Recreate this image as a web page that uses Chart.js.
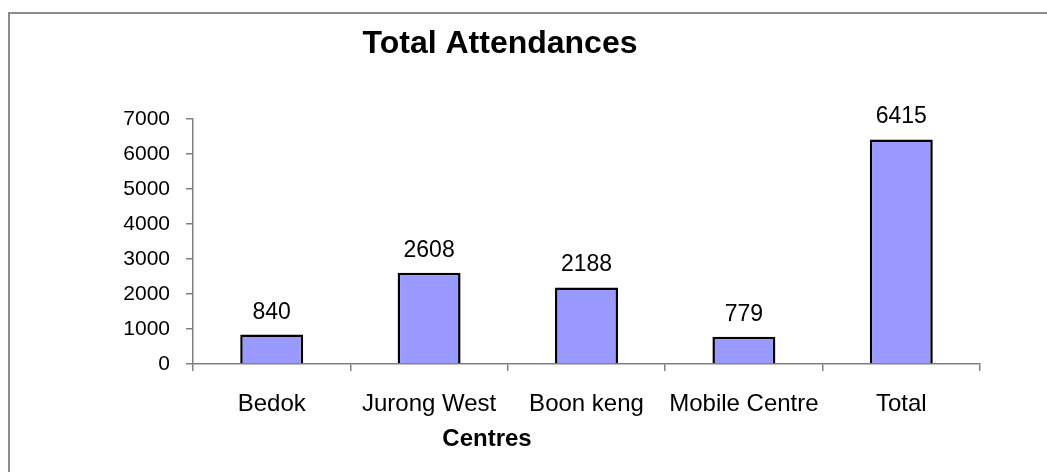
<!DOCTYPE html>
<html>
<head>
<meta charset="utf-8">
<script src="https://cdn.jsdelivr.net/npm/chart.js@4"></script>
<style>
    body { margin: 0; background: #fff; }
    #frame {
        position: absolute; left: 8px; top: 12px; width: 1039px; height: 460px;
        border-left: 2px solid #8c8c8c; border-top: 2px solid #8c8c8c;
    }
    #attendance_chart { position: absolute; left: 0; top: 0; }
</style>
</head>
<body>
<div id="frame"></div>
<canvas id="attendance_chart" width="1047" height="472"></canvas>
<script>
const chart_element = document.getElementById("attendance_chart");

const centres = ["Bedok", "Jurong West", "Boon keng", "Mobile Centre", "Total"];
const attendances = [840, 2608, 2188, 779, 6415];
const y_ticks = [0, 1000, 2000, 3000, 4000, 5000, 6000, 7000];

const chart_title = "Total Attendances";
const x_title = "Centres";

const font_family = "'Liberation Sans', Arial, sans-serif";

// titles and value labels, drawn where the original puts them
const text_plugin = {
    id: "text_plugin",
    afterDatasetsDraw(chart) {
        const ctx = chart.ctx;
        ctx.save();
        ctx.fillStyle = "#000";
        ctx.textAlign = "center";
        ctx.textBaseline = "alphabetic";

        ctx.font = "23px " + font_family;
        chart.getDatasetMeta(0).data.forEach((bar, i) => {
            ctx.fillText(String(attendances[i]), bar.x, bar.y - 16);
        });

        ctx.font = "bold 32px " + font_family;
        ctx.fillText(chart_title, 500, 53);

        ctx.font = "bold 24px " + font_family;
        ctx.fillText(x_title, 487, 446);
        ctx.restore();
    }
};

let chart = new Chart(chart_element, {
    type: 'bar',
    data: {
        labels: centres,
        datasets: [{
            label: "Total Attendances",
            data: attendances,
            backgroundColor: "#9999ff",
            borderColor: "#000",
            borderWidth: 2.5,
            barPercentage: 0.4,
            categoryPercentage: 1
        }]
    },
    options: {
        responsive: false,
        animation: false,
        layout: {
            padding: { left: 0, right: 67, top: 119, bottom: 0 }
        },
        plugins: {
            legend: { display: false },
            tooltip: { enabled: false }
        },
        scales: {
            x: {
                grid: {
                    offset: true,
                    drawOnChartArea: false,
                    drawTicks: true,
                    tickLength: 7,
                    color: "#808080",
                    lineWidth: 1.5
                },
                border: { display: true, color: "#808080", width: 1.5 },
                ticks: {
                    color: "#000",
                    padding: 19,
                    font: { family: font_family, size: 24 },
                    maxRotation: 0,
                    autoSkip: false
                },
                afterFit(scale) { scale.height = 108; }
            },
            y: {
                min: 0,
                max: 7000,
                afterBuildTicks(scale) {
                    scale.ticks = y_ticks.map(v => ({ value: v }));
                },
                grid: {
                    drawOnChartArea: false,
                    drawTicks: true,
                    tickLength: 7,
                    color: "#808080",
                    lineWidth: 1.5
                },
                border: { display: true, color: "#808080", width: 1.5 },
                ticks: {
                    color: "#000",
                    padding: 16,
                    font: { family: font_family, size: 21 },
                    callback: (value) => String(value)
                },
                afterFit(scale) { scale.width = 193; }
            }
        }
    },
    plugins: [text_plugin]
});
</script>
</body>
</html>
